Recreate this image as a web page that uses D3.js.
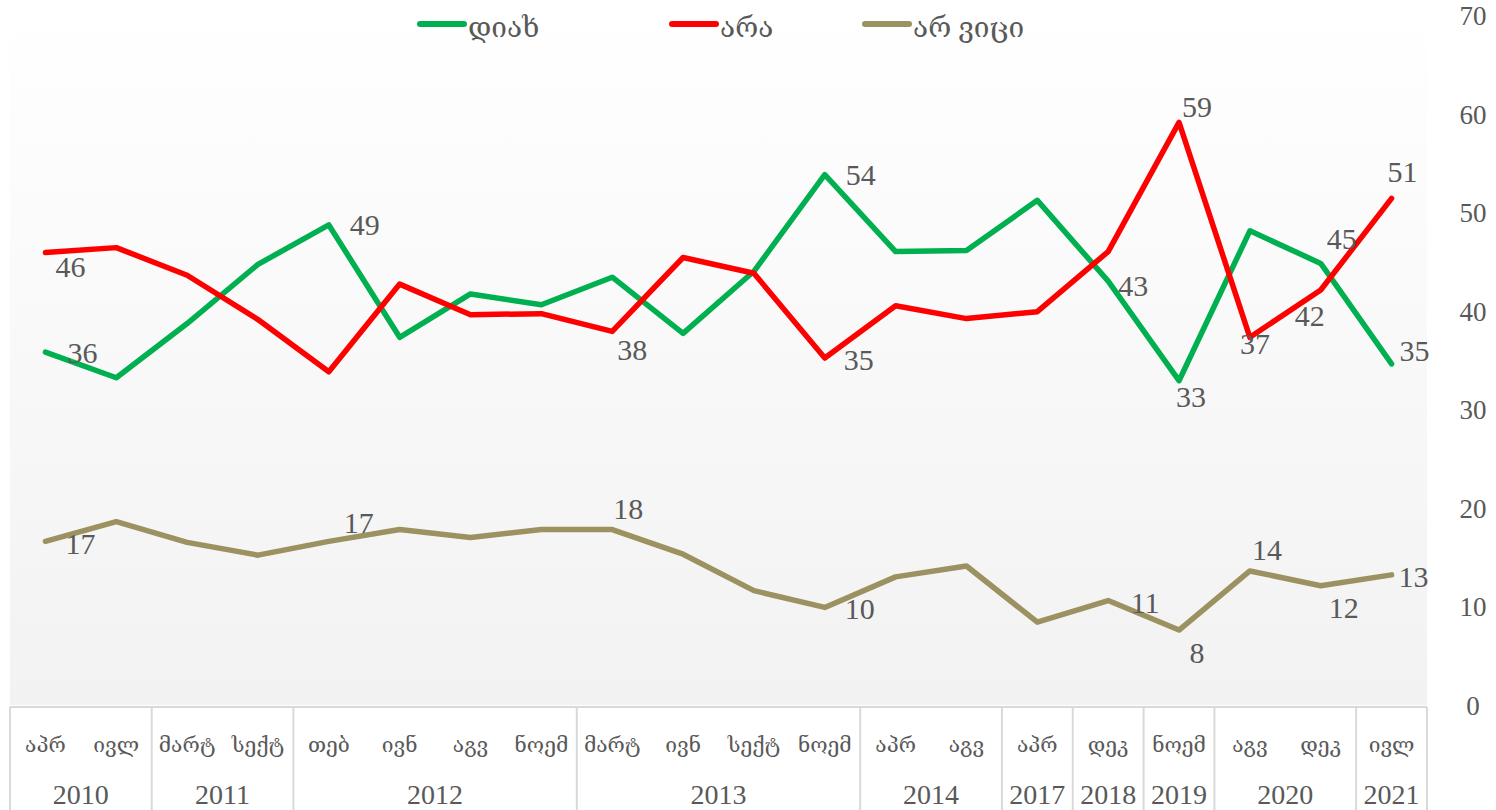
<!DOCTYPE html>
<html>
<head>
<meta charset="utf-8">
<script src="https://cdn.jsdelivr.net/npm/d3@7"></script>
<style>
    html, body { margin: 0; padding: 0; background: #ffffff; }
    svg text { font-family: "Liberation Serif", "DejaVu Serif", serif; fill: #595959; }
</style>
</head>
<body>
<svg id="chart"></svg>
<script>
// month labels and their year
var categories = ['აპრ', 'ივლ', 'მარტ', 'სექტ', 'თებ', 'ივნ', 'აგვ', 'ნოემ', 'მარტ', 'ივნ',
    'სექტ', 'ნოემ', 'აპრ', 'აგვ', 'აპრ', 'დეკ', 'ნოემ', 'აგვ', 'დეკ', 'ივლ'];
var years = ['2010', '2010', '2011', '2011', '2012', '2012', '2012', '2012', '2013', '2013',
    '2013', '2013', '2014', '2014', '2017', '2018', '2019', '2020', '2020', '2021'];

var seriesNames = ['დიახ', 'არა', 'არ ვიცი'];
var yesValues = [35.8, 33.2, 38.7, 44.7, 48.7, 37.3, 41.7, 40.6, 43.4, 37.7,
    44.0, 53.8, 46.0, 46.1, 51.2, 43.0, 32.9, 48.1, 44.8, 34.6];
var noValues = [45.9, 46.4, 43.6, 39.1, 33.8, 42.7, 39.6, 39.7, 37.9, 45.4,
    43.8, 35.2, 40.5, 39.2, 39.9, 46.0, 59.1, 37.3, 42.1, 51.4];
var dkValues = [16.6, 18.6, 16.5, 15.2, 16.6, 17.8, 17.0, 17.8, 17.8, 15.3,
    11.6, 9.9, 13.0, 14.1, 8.4, 10.6, 7.6, 13.6, 12.1, 13.2];

var yTicks = [0, 10, 20, 30, 40, 50, 60, 70];

// which points carry a value label: [index, dx, dy]
var yesLabels = [[0, 37, 0], [4, 36, 0], [11, 36, 0], [15, 25, 4], [16, 12, 16], [18, 21, -25], [19, 23, -13]];
var noLabels = [[0, 25, 14], [8, 20, 18], [11, 34, 1], [16, 18, -16], [17, 5, 6], [18, -11, 25], [19, 11, -27]];
var dkLabels = [[0, 35, 2], [4, 30, -19], [8, 16, -21], [11, 35, 1], [15, 37, 2], [16, 18, 22], [17, 17, -21], [18, 23, 22], [19, 22, 2]];

var colors = ['#00b050', '#ff0000', '#9c9160'];

var width = 1496,
    height = 810;

var margin = {
    top: 5,
    right: 69,
    bottom: 105,
    left: 10
};

var plotWidth = width - margin.left - margin.right,
    plotHeight = height - margin.top - margin.bottom;

var svg = d3.select('#chart')
    .attr('width', width)
    .attr('height', height);

var defs = svg.append('defs');
var grad = defs.append('linearGradient')
    .attr('id', 'bg')
    .attr('x1', 0).attr('y1', 0)
    .attr('x2', 0).attr('y2', 1);
grad.append('stop').attr('offset', '0%').attr('stop-color', '#ffffff');
grad.append('stop').attr('offset', '100%').attr('stop-color', '#f2f2f2');

var container = svg.append('g')
    .attr('transform', 'translate(' + margin.left + ',' + margin.top + ')');

container.append('rect')
    .attr('width', plotWidth)
    .attr('height', plotHeight)
    .style('fill', 'url(#bg)');

var x = d3.scaleBand()
    .domain(d3.range(categories.length))
    .range([0, plotWidth]);

var y = d3.scaleLinear()
    .domain([0, 70])
    .range([plotHeight, 10]);

// right axis, labels only
var axis = container.append('g')
    .attr('transform', 'translate(' + (plotWidth + 46) + ',0)')
    .call(d3.axisRight(y).tickValues(yTicks).tickSize(0).tickPadding(0));
axis.select('.domain').remove();
axis.selectAll('text')
    .attr('text-anchor', 'middle')
    .attr('dy', '0.35em')
    .style('font-size', '27px')
    .style('font-family', '"Liberation Serif", serif')
    .style('fill', '#595959');

// category table under the plot
var table = container.append('g')
    .attr('transform', 'translate(0,' + plotHeight + ')');

table.append('line')
    .attr('x1', 0).attr('x2', plotWidth)
    .attr('y1', 2).attr('y2', 2)
    .style('stroke', '#d9d9d9')
    .style('stroke-width', 2);

var groups = [];
years.forEach(function (yr, i) {
    var last = groups[groups.length - 1];
    if (last && last.year === yr) {
        last.end = i;
    } else {
        groups.push({ year: yr, start: i, end: i });
    }
});

var bounds = [0].concat(groups.map(function (g) { return g.end + 1; }));
table.selectAll('.sep')
    .data(bounds)
    .enter().append('line')
    .attr('class', 'sep')
    .attr('x1', function (d) { return d === categories.length ? plotWidth : x(d); })
    .attr('x2', function (d) { return d === categories.length ? plotWidth : x(d); })
    .attr('y1', 2)
    .attr('y2', margin.bottom)
    .style('stroke', '#d9d9d9')
    .style('stroke-width', 2);

table.selectAll('.month')
    .data(categories)
    .enter().append('text')
    .attr('class', 'month')
    .attr('x', function (d, i) { return x(i) + x.bandwidth() / 2; })
    .attr('y', 40)
    .attr('text-anchor', 'middle')
    .attr('dominant-baseline', 'central')
    .style('font-size', '21px')
    .text(function (d) { return d; });

table.selectAll('.year')
    .data(groups)
    .enter().append('text')
    .attr('class', 'year')
    .attr('x', function (d) { return (x(d.start) + x(d.end) + x.bandwidth()) / 2; })
    .attr('y', 89)
    .attr('text-anchor', 'middle')
    .attr('dominant-baseline', 'central')
    .style('font-size', '28px')
    .text(function (d) { return d.year; });

// lines
var line = d3.line()
    .x(function (d, i) { return x(i) + x.bandwidth() / 2; })
    .y(function (d) { return y(d); });

var series = [yesValues, noValues, dkValues];
var labelSets = [yesLabels, noLabels, dkLabels];

container.selectAll('.series')
    .data(series)
    .enter().append('path')
    .attr('class', 'series')
    .attr('d', line)
    .style('fill', 'none')
    .style('stroke', function (d, i) { return colors[i]; })
    .style('stroke-width', 5.5)
    .style('stroke-linejoin', 'round')
    .style('stroke-linecap', 'round');

series.forEach(function (values, s) {
    container.selectAll('.label-' + s)
        .data(labelSets[s])
        .enter().append('text')
        .attr('class', 'label-' + s)
        .attr('x', function (d) { return x(d[0]) + x.bandwidth() / 2 + d[1]; })
        .attr('y', function (d) { return y(values[d[0]]) + d[2]; })
        .attr('text-anchor', 'middle')
        .attr('dominant-baseline', 'central')
        .style('font-size', '30px')
        .text(function (d) { return Math.round(values[d[0]]); });
});

// legend
var legendX = [420, 672, 865];
var legend = svg.selectAll('.legend')
    .data(seriesNames)
    .enter().append('g')
    .attr('class', 'legend')
    .attr('transform', function (d, i) { return 'translate(' + legendX[i] + ',24)'; });

legend.append('line')
    .attr('x1', 0).attr('x2', 44)
    .attr('y1', 0).attr('y2', 0)
    .style('stroke', function (d, i) { return colors[i]; })
    .style('stroke-width', 6)
    .style('stroke-linecap', 'round');

legend.append('text')
    .attr('x', 48)
    .attr('y', 3)
    .attr('dominant-baseline', 'central')
    .style('font-size', '28px')
    .text(function (d) { return d; });
</script>
</body>
</html>
